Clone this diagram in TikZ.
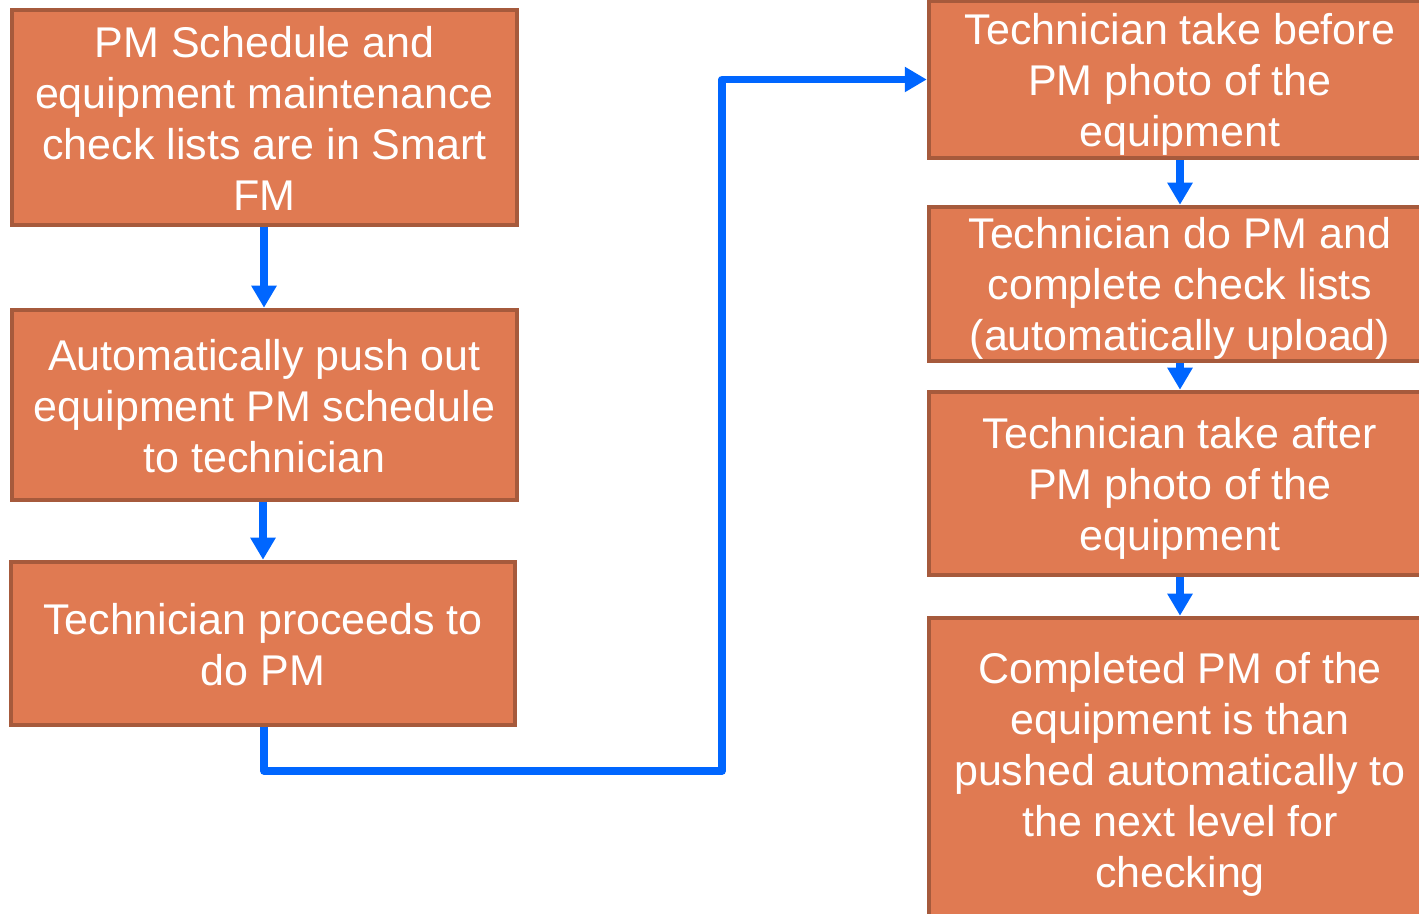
\documentclass[tikz,border=0pt]{standalone}
\usepackage{fontspec}
\setmainfont{Liberation Sans}
\usetikzlibrary{arrows.meta}
\definecolor{boxfill}{RGB}{224,122,82}
\definecolor{boxline}{RGB}{166,90,60}
\definecolor{flowblue}{RGB}{0,102,255}
\tikzset{
  stepbox/.style={draw=boxline, fill=boxfill, line width=4.5pt, inner sep=0pt},
  boxtext/.style={text=white, align=center, inner sep=0pt,
    font=\fontsize{43}{51}\selectfont},
  flow/.style={draw=flowblue, line width=7.5pt, line join=round,
    -{Triangle[length=22pt,width=24pt]}}
}
\begin{document}
\begin{tikzpicture}[x=1pt,y=1pt]
\useasboundingbox (0,0) rectangle (1419,913);
\clip (0,0) rectangle (1419,913);
% left column
\node[stepbox, minimum width=505pt, minimum height=215pt,
  label={[boxtext,yshift=-1pt]center:{PM Schedule and\\equipment maintenance\\check lists are in Smart\\FM}}]
  (b1) at (264.5,795.5) {};
\node[stepbox, minimum width=505pt, minimum height=190pt,
  label={[boxtext,yshift=-1pt]center:{Automatically push out\\equipment PM schedule\\to technician}}]
  (b2) at (264.5,508) {};
\node[stepbox, minimum width=504pt, minimum height=163pt,
  label={[boxtext,yshift=-1pt]center:{Technician proceeds to\\do PM}}]
  (b3) at (263,269.5) {};
% right column
\node[stepbox, minimum width=502pt, minimum height=157pt,
  label={[boxtext,yshift=-4.5pt]center:{Technician take before\\PM photo of the\\equipment}}]
  (r1) at (1180,833.5) {};
\node[stepbox, minimum width=502pt, minimum height=154pt,
  label={[boxtext,yshift=-4.5pt]center:{Technician do PM and\\complete check lists\\(automatically upload)}}]
  (r2) at (1180,629) {};
\node[stepbox, minimum width=502pt, minimum height=183pt,
  label={[boxtext,yshift=-4.5pt]center:{Technician take after\\PM photo of the\\equipment}}]
  (r3) at (1180,429.5) {};
\node[stepbox, minimum width=502pt, minimum height=304pt,
  label={[boxtext,yshift=-4pt]center:{Completed PM of the\\equipment is than\\pushed automatically to\\the next level for\\checking}}]
  (r4) at (1180,143) {};
% connectors
\coordinate (turn) at (722,142);
\draw[flow] ([xshift=-0.5pt]b1.south) -- ([xshift=-0.5pt]b1.south |- b2.north);
\draw[flow] ([xshift=-1.5pt]b2.south) -- ([xshift=-1.5pt]b2.south |- b3.north);
\draw[flow] ([xshift=1pt]b3.south) |- (turn) |- (r1.west);
\draw[flow] (r1.south) -- (r2.north);
\draw[flow] (r2.south) -- (r3.north);
\draw[flow] (r3.south) -- (r4.north);
\end{tikzpicture}
\end{document}
